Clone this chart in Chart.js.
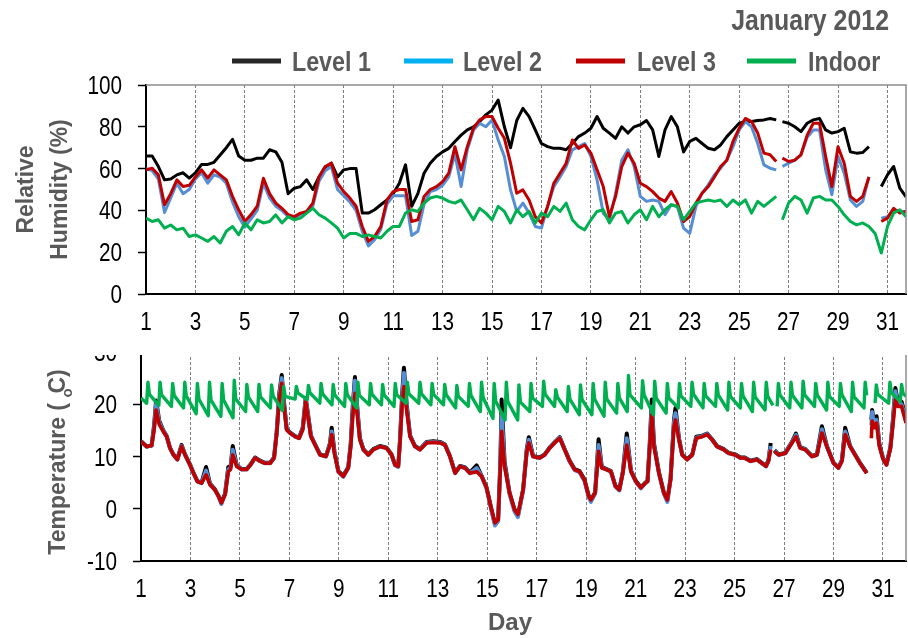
<!DOCTYPE html>
<html>
<head>
<meta charset="utf-8">
<script src="https://cdn.jsdelivr.net/npm/chart.js@4.4.1/dist/chart.umd.min.js"></script>
<style>
  html, body { margin: 0; padding: 0; background: #fff; }
  body { width: 908px; height: 638px; position: relative; overflow: hidden; }
  #rhChart { position: absolute; left: 0; top: 0; }
  #clip { position: absolute; left: 0; top: 355px; width: 908px; height: 283px; overflow: hidden; }
  #tChart { position: absolute; left: 0; top: -15px; }
</style>
</head>
<body>
<canvas id="rhChart" width="908" height="340"></canvas>
<div id="clip"><canvas id="tChart" width="908" height="298"></canvas></div>
<script>
// ---- labels ----
const chartTitle = "January 2012";
const seriesNames = ["Level 1", "Level 2", "Level 3", "Indoor"];
const rhAxisTitle = ["Relative", "Humidity (%)"];
const xAxisTitle = "Day";
const dayTicks = [1, 3, 5, 7, 9, 11, 13, 15, 17, 19, 21, 23, 25, 27, 29, 31];
const rhTicks = [0, 20, 40, 60, 80, 100];
const tempTicks = [-10, 0, 10, 20, 30];

const lineColors = ["#000000", "#558ED5", "#C00000", "#00B050"];
const legendColors = ["#262626", "#00B0F0", "#C00000", "#00B050"];

// ---- relative humidity, read every 6 h (null = logger gap) ----
const rhDays = [
  1, 1.25, 1.5, 1.75, 2, 2.25, 2.5, 2.75, 3, 3.25, 3.5, 3.75, 4, 4.25, 4.5, 4.75,
  5, 5.25, 5.5, 5.75, 6, 6.25, 6.5, 6.75, 7, 7.25, 7.5, 7.75, 8, 8.25, 8.5, 8.75,
  9, 9.25, 9.5, 9.75, 10, 10.25, 10.5, 10.75, 11, 11.25, 11.5, 11.75, 12, 12.25, 12.5, 12.75,
  13, 13.25, 13.5, 13.75, 14, 14.25, 14.5, 14.75, 15, 15.25, 15.5, 15.75, 16, 16.25, 16.5, 16.75,
  17, 17.25, 17.5, 17.75, 18, 18.25, 18.5, 18.75, 19, 19.25, 19.5, 19.75, 20, 20.25, 20.5, 20.75,
  21, 21.25, 21.5, 21.75, 22, 22.25, 22.5, 22.75, 23, 23.25, 23.5, 23.75, 24, 24.25, 24.5, 24.75,
  25, 25.25, 25.5, 25.75, 26, 26.25, 26.5, 26.6, 26.75, 27, 27.25, 27.5, 27.75, 28, 28.25, 28.5, 28.75,
  29, 29.25, 29.5, 29.75, 30, 30.25, 30.5, 30.75, 31, 31.25, 31.5, 31.75
];
const rhLevel1 = [
  66, 66, 61, 54.6, 55, 57, 58, 55.4, 58, 62, 62, 63, 66.5, 70, 74, 66,
  64, 64, 65, 65, 69, 68, 63, 48, 50.6, 51.4, 54.6, 50, 56, 60.7, 62.6, 56,
  59.4, 60, 60, 38.7, 38.7, 40.3, 42.7, 45, 48, 53, 61.8, 42, 48, 57.8, 62.6, 65.8,
  68, 69.7, 73, 76, 78.5, 80, 82.5, 85.7, 88, 92.8, 80, 70, 83, 88.8, 84.9, 78.5,
  72, 70.5, 69.7, 69.7, 69, 72, 75.3, 77, 79.3, 84.9, 79.3, 77, 74.5, 80, 77, 80,
  81, 83, 78.5, 65.8, 78.5, 84.9, 80, 68, 73, 74.5, 72, 69.7, 69, 71.3, 75.3, 78.5,
  81.7, 82.5, 82.5, 83, 83.3, 84, 83.3, null, 82.5, 81.7, 80, 77.7, 81.7, 83.3, 84, 78.5, 77,
  77.7, 79.3, 68, 67.4, 67.7, 70.5, null, 51.4, 57, 61, 50.6, 46.5
];
const rhLevel2 = [
  60, 59, 55, 39, 46, 53, 48, 50, 55, 58, 53, 57, 56, 53, 44, 37,
  32, 36, 40, 53, 46, 42, 40, 37, 36, 38, 39, 42, 54, 59, 61, 50,
  47, 44, 40, 30, 23, 26, 31, 43, 47, 47, 47, 28, 30, 43, 49, 50,
  52, 56, 67, 51.4, 69, 78.5, 81.7, 80, 83.3, 73.7, 65.8, 49.8, 39.5, 43.5, 38.7, 32.3,
  31.5, 41.9, 51.4, 56, 61, 69, 70.5, 72, 65.8, 54.6, 38.7, 35.5, 48.2, 64, 69, 61,
  46.7, 44.3, 45, 44.3, 38, 42.7, 41.9, 31.5, 29, 41.9, 48.2, 52.2, 57, 60.2, 64, 70.5,
  78.5, 82.5, 80, 72, 61.8, 60.2, 59.4, null, 61, 62.6, 64, 66.6, 75, 78.5, 78.5, 59.4, 47.5,
  65.8, 57.8, 45, 41.9, 44.3, 56, null, 36.3, 37, 40.3, 39.5, 39.5
];
const rhLevel3 = [
  59.4, 60.2, 57, 42.7, 48, 54.6, 51.4, 52, 56, 59.4, 55.4, 59.4, 57, 54.6, 46.7, 40.3,
  34.7, 38, 42, 55.4, 48, 43.5, 41, 38, 37, 38.7, 39.5, 43.5, 56, 61, 62.6, 53,
  49, 45.9, 42, 32.3, 25.2, 27.5, 32.3, 45, 49, 50, 50, 34.7, 35.5, 46.7, 50, 51.4,
  53.8, 57.8, 70.5, 59.4, 70.5, 79.3, 83.3, 84.9, 84.9, 79.3, 74.5, 62.6, 48.2, 49.8, 45, 37,
  34, 41.9, 53, 57.8, 62.6, 73.7, 69.7, 71.3, 67.4, 59.4, 51.4, 37, 46.7, 61, 67.4, 62.6,
  53, 51.4, 49, 45.9, 44.3, 49, 43.5, 34.7, 37, 43.5, 48.2, 51.4, 56, 61, 64, 73,
  79.3, 84, 82.5, 77, 67.4, 66.6, 63.4, null, 65, 63.4, 64, 66.6, 76, 81.7, 81.7, 65.8, 51.4,
  70.5, 62.6, 46.7, 44.3, 46.7, 56, null, 34.7, 36.3, 41, 38.7, 39.5
];
const rhIndoor = [
  36.3, 34.7, 35.5, 31.5, 33, 30.7, 31.5, 27.5, 28.3, 26.8, 25.2, 27.5, 24.4, 30, 32.3, 28.3,
  34, 30.7, 35.5, 34, 34.7, 37.9, 34, 37, 35.5, 36.3, 38.7, 41, 37.9, 36.3, 34, 31.5,
  26.8, 29, 29, 27.5, 28.3, 27.5, 26.8, 30, 32.3, 32.3, 38.7, 40.3, 39.5, 43.5, 45.9, 46.7,
  45.9, 44.3, 43.5, 45, 40.3, 35.5, 41, 38.7, 35.5, 41.9, 39.5, 34, 40.3, 37, 39.5, 34,
  38.7, 37, 41.9, 39.5, 43.5, 35.5, 32.3, 30.7, 35.5, 39.5, 40.3, 34, 38.7, 39.5, 34, 37.9,
  40.3, 35.5, 41.9, 37, 40.3, 42.7, 41.9, 35.5, 39.5, 43.5, 44.3, 45, 44.3, 45, 41.9, 45,
  42.7, 45, 38.7, 44.3, 41.9, 44.3, 46.7, null, 35.5, 43.5, 46.7, 45, 38.7, 45.9, 46.7, 45, 45,
  41.9, 37.9, 34.7, 33.1, 34, 32.3, 29, 19.6, 32.3, 38.7, 40.3, 37
];

// ---- outdoor temperatures (turning points of the traces) ----
const tempDays = [
  1.00, 1.23, 1.43, 1.53, 1.61, 1.74, 1.90, 2.04, 2.17, 2.31, 2.47, 2.64, 2.78, 2.98,
  3.12, 3.28, 3.45, 3.63, 3.79, 3.99, 4.13, 4.25, 4.40, 4.53, 4.62, 4.71, 4.87,
  5.07, 5.27, 5.43, 5.61, 5.81, 6.01, 6.22, 6.38, 6.49, 6.59, 6.69, 6.78, 6.89,
  7.02, 7.23, 7.39, 7.54, 7.66, 7.77, 7.87, 8.04, 8.24, 8.48, 8.64, 8.71, 8.82, 8.98,
  9.18, 9.38, 9.48, 9.56, 9.65, 9.75, 9.85, 9.99, 10.19, 10.39, 10.66, 10.93,
  11.13, 11.27, 11.40, 11.47, 11.56, 11.63, 11.74, 11.88, 12.08, 12.28, 12.55, 12.82,
  13.09, 13.29, 13.49, 13.70, 13.90, 14.10, 14.30, 14.57, 14.77, 14.97,
  15.17, 15.31, 15.44, 15.53, 15.58, 15.70, 15.90, 16.10, 16.24, 16.45, 16.60, 16.68, 16.85,
  17.12, 17.32, 17.52, 17.72, 17.93, 18.13, 18.33, 18.53, 18.73, 18.93,
  19.10, 19.19, 19.36, 19.50, 19.63, 19.82, 20.00, 20.18, 20.34, 20.48, 20.64, 20.81,
  21.01, 21.21, 21.39, 21.48, 21.57, 21.65, 21.74, 21.94, 22.14, 22.28, 22.41, 22.55, 22.61, 22.75, 22.88,
  23.08, 23.29, 23.45, 23.69, 23.89, 24.09, 24.29, 24.56, 24.76,
  25.03, 25.23, 25.41, 25.64, 25.90, 26.10, 26.27, 26.37, 26.46, 26.53, 26.61, 26.78,
  27.05, 27.32, 27.48, 27.65, 27.86, 28.13, 28.33, 28.53, 28.73,
  29.00, 29.20, 29.34, 29.47, 29.67, 29.87, 30.07, 30.34, 30.44,
  30.53, 30.56, 30.65, 30.74, 30.85, 31.00, 31.14, 31.30, 31.40, 31.50, 31.60, 31.75, 31.93
];
const tempLevel1 = [
  12.9, 11.9, 12.1, 16, 20.7, 16.8, 15, 13.9, 11.7, 10.4, 9.5, 12.2, 10.4, 8.5,
  6.9, 5.3, 5, 8, 4.8, 3.7, 2.5, 1.2, 2.9, 8, 8, 12, 8.3,
  7.6, 7.6, 8.5, 9.8, 9.2, 8.8, 8.8, 9.8, 15, 22, 25.6, 20.5, 15.3,
  14.6, 13.9, 13.6, 15.5, 21.2, 17.5, 14, 12.3, 10.4, 10.1, 12.5, 15.5, 11, 7.2,
  6.3, 8, 12.5, 19.5, 25.2, 19, 13.5, 11.4, 10.4, 11.4, 12, 11.7,
  10.4, 8.5, 8.2, 13, 22, 27, 20, 14, 12, 11.4, 12.8, 12.9,
  12.8, 12.3, 10.1, 6.9, 8.2, 7.9, 6.9, 8.3, 6.3, 4.1,
  -0.1, -2.9, -2, 9, 20.9, 9, 3.1, -0.1, -1.3, 3.7, 11.5, 13.7, 10.1,
  9.8, 10.4, 11.7, 12.7, 13.7, 11.4, 9.2, 7.6, 7.2, 5.6,
  2.5, 1.6, 3.1, 13.3, 8, 7.6, 7.2, 4.4, 3.7, 7, 14.4, 7.3,
  5.3, 4.1, 5, 5.3, 12.5, 20.9, 12.5, 7, 3.1, 1.6, 5.8, 17, 19.3, 13.5, 10.4,
  9.5, 10.4, 13.8, 14, 14.4, 13.3, 12, 11.4, 10.7,
  10.4, 9.8, 9.8, 9.2, 9.5, 8.8, 8.2, 9.3, 12.6, null, 11.2, 10.4,
  10.7, 12.8, 14.4, 11.8, 11.4, 10.1, 10.4, 15.8, 12,
  8.8, 7.9, 9.3, 15.5, 12, 10.4, 8.8, 6.9, null,
  17, 18.9, 16, 17.7, 12.5, 9.7, 8.5, 11.8, 17, 23.1, 20.5, 20.5, 17.4
];
const tempLevel2 = [
  12.9, 11.9, 12.1, 15.5, 20, 16.5, 14.9, 13.8, 11.6, 10.3, 9.4, 12, 10.3, 8.4,
  6.8, 5.2, 4.9, 7.3, 4.7, 3.6, 2.4, 0.9, 2.8, 7.5, 7.8, 11.3, 8.2,
  7.5, 7.5, 8.4, 9.7, 9.1, 8.7, 8.7, 9.7, 14.8, 21.5, 25, 20, 15.2,
  14.5, 13.8, 13.5, 15.3, 21, 17.2, 13.9, 12.2, 10.3, 10, 12.3, 14.8, 10.8, 7,
  6.1, 7.9, 12.2, 18.5, 24.5, 18.5, 13.3, 11.3, 10.3, 11.3, 11.9, 11.6,
  10.3, 8.3, 8, 12.8, 21, 26, 19.5, 13.9, 11.9, 11.3, 12.7, 12.8,
  12.7, 12.2, 10, 6.8, 8.1, 7.8, 6.8, 7.8, 6.2, 3.9,
  -0.4, -3.2, -2.4, 8.5, 18, 8.5, 2.8, -0.5, -1.6, 3.5, 11.2, 13.2, 10,
  9.7, 10.3, 11.6, 12.6, 13.6, 11.3, 9, 7.4, 7, 5.3,
  2.2, 1.3, 2.9, 12.2, 7.9, 7.5, 7.1, 4.2, 3.5, 6.9, 13.5, 7.2,
  5.1, 3.9, 4.9, 5.2, 12.2, 19.5, 12.2, 6.8, 2.9, 1.3, 5.6, 16.5, 18.3, 13.3, 10.3,
  9.4, 10.3, 13.6, 13.9, 14.3, 13.2, 11.9, 11.3, 10.6,
  10.3, 9.7, 9.7, 9.1, 9.4, 8.7, 8.1, 9.2, 12, null, 11.1, 10.3,
  10.6, 12.7, 14.1, 11.7, 11.3, 10, 10.3, 15.2, 11.9,
  8.7, 7.8, 9.2, 14.8, 11.9, 10.3, 8.7, 6.8, null,
  16, 18.5, 15.8, 17, 12.2, 9.6, 8.4, 11.6, 16.5, 22.5, 20, 20, 17
];
const tempLevel3 = [
  12.9, 11.9, 12.1, 15.1, 18.9, 16.1, 14.8, 13.8, 11.6, 10.3, 9.4, 11.9, 10.3, 8.4,
  6.8, 5.2, 4.9, 6.5, 4.6, 3.6, 2.4, 1.1, 2.7, 7.1, 7.5, 10.3, 8.1,
  7.5, 7.5, 8.4, 9.7, 9.1, 8.7, 8.7, 9.7, 14.5, 20.9, 24, 19.6, 15.1,
  14.5, 13.8, 13.5, 15.1, 20.5, 17, 13.8, 12.2, 10.3, 10, 12.2, 14.2, 10.6, 7.1,
  6.2, 7.8, 11.9, 17.7, 22.1, 17.7, 13.2, 11.3, 10.3, 11.3, 11.9, 11.6,
  10.3, 8.4, 8.1, 12.6, 20.2, 23.4, 18.9, 13.8, 11.9, 11.3, 12.6, 12.7,
  12.6, 12.2, 10, 6.8, 8.1, 7.8, 6.8, 7.1, 6.2, 4,
  -0.2, -2.7, -2.1, 8, 14.8, 8.1, 3, -0.2, -1.1, 3.6, 11, 12.6, 10,
  9.7, 10.3, 11.6, 12.6, 13.5, 11.3, 9.1, 7.5, 7.1, 5.5,
  2.4, 1.7, 3, 11, 7.8, 7.5, 7.1, 4.3, 3.6, 6.8, 12.2, 7.1,
  5.2, 4, 4.9, 5.2, 11.9, 18, 11.9, 6.8, 3, 1.7, 5.5, 15.8, 17, 13.2, 10.3,
  9.4, 10.3, 13.5, 13.8, 14.2, 13.2, 11.9, 11.3, 10.6,
  10.3, 9.7, 9.7, 9.1, 9.4, 8.7, 8.1, 9.1, 11.3, null, 11, 10.3,
  10.6, 12.6, 13.8, 11.6, 11.3, 10, 10.3, 14.5, 11.9,
  8.7, 7.8, 9.1, 14.2, 11.9, 10.3, 8.7, 6.8, null,
  13.5, 16.8, 15.5, 16.4, 12, 9.5, 8.4, 11.5, 16, 20.9, 19.6, 19.6, 16.4
];

// ---- indoor temperature: trough / peak / shoulder of the twice-daily cycle ----
const indoorDays = [
  1,
  1.23, 1.28, 1.34, 1.72, 1.77, 1.83,
  2.23, 2.28, 2.34, 2.72, 2.77, 2.83,
  3.23, 3.28, 3.34, 3.72, 3.77, 3.83,
  4.23, 4.28, 4.34, 4.72, 4.77, 4.83,
  5.23, 5.28, 5.34, 5.72, 5.77, 5.83,
  6.23, 6.28, 6.34, 6.72, 6.77, 6.83,
  7.23, 7.28, 7.34, 7.72, 7.77, 7.83,
  8.23, 8.28, 8.34, 8.72, 8.77, 8.83,
  9.23, 9.28, 9.34, 9.72, 9.77, 9.83,
  10.23, 10.28, 10.34, 10.72, 10.77, 10.83,
  11.23, 11.28, 11.34, 11.72, 11.77, 11.83,
  12.23, 12.28, 12.34, 12.72, 12.77, 12.83,
  13.23, 13.28, 13.34, 13.72, 13.77, 13.83,
  14.23, 14.28, 14.34, 14.72, 14.77, 14.83,
  15.23, 15.28, 15.34, 15.72, 15.77, 15.83,
  16.23, 16.28, 16.34, 16.72, 16.77, 16.83,
  17.23, 17.28, 17.34, 17.72, 17.77, 17.83,
  18.23, 18.28, 18.34, 18.72, 18.77, 18.83,
  19.23, 19.28, 19.34, 19.72, 19.77, 19.83,
  20.23, 20.28, 20.34, 20.66, 20.71, 20.77,
  21.23, 21.28, 21.34, 21.72, 21.77, 21.83,
  22.23, 22.28, 22.34, 22.72, 22.77, 22.83,
  23.23, 23.28, 23.34, 23.72, 23.77, 23.83,
  24.23, 24.28, 24.34, 24.72, 24.77, 24.83,
  25.23, 25.28, 25.34, 25.72, 25.77, 25.83,
  26.23, 26.28, 26.34, 26.55, 26.6, 26.72, 26.77, 26.83,
  27.23, 27.28, 27.34, 27.72, 27.77, 27.83,
  28.23, 28.28, 28.34, 28.72, 28.77, 28.83,
  29.23, 29.28, 29.34, 29.72, 29.77, 29.83,
  30.23, 30.28, 30.34, 30.45, 30.68, 30.73, 30.79,
  31.23, 31.28, 31.34, 31.7, 31.75, 31.81, 31.93
];
const tempIndoor = [
  21.2,
  20.2, 24.2, 21.9, 19.8, 24.2, 21.8,
  19.6, 24, 21.7, 19.3, 24.2, 21.6,
  18.2, 24, 21, 17.8, 24.2, 20.8,
  17.7, 24, 20.8, 17.4, 24.6, 21,
  18.6, 23.8, 21.4, 18.6, 23.8, 21.4,
  19.3, 23.7, 21.6, 18.8, 23.4, 21.5,
  21, 23.4, 22.2, 20.9, 23.6, 22.2,
  20.2, 24, 22, 19.9, 23.8, 21.8,
  19.6, 24, 21.8, 19.3, 24.2, 21.7,
  19.9, 24, 21.9, 19.9, 23.8, 21.8,
  19.6, 24, 21.8, 20.2, 24.2, 22,
  20.2, 24.2, 22, 19.9, 24, 21.9,
  19.9, 23.8, 21.8, 19.3, 23.6, 21.5,
  19.6, 24, 21.7, 18.6, 24.2, 21.3,
  17.3, 24, 20.6, 17, 24.2, 20.5,
  17, 23.7, 20.4, 18.6, 24, 21.2,
  19.6, 24.4, 21.9, 19.6, 22.8, 21.4,
  18.6, 23.4, 21, 18, 23.7, 20.9,
  18, 24, 21, 17.7, 24.2, 21,
  18.3, 24, 21.2, 18.6, 25.5, 21.8,
  19.3, 24.5, 21.8, 18, 24.4, 21.2,
  18.3, 24, 21.2, 19.3, 24, 21.6,
  19.6, 24.2, 21.9, 19.3, 24, 21.6,
  19.6, 24, 21.8, 18.9, 24.2, 21.5,
  19.3, 24, 21.6, 18.6, 24.2, 21.4,
  18.9, 24.2, 21.5, 19.8, null, 19.6, 24, 21.8,
  19.3, 24.2, 21.7, 19.3, 24.4, 21.8,
  19.6, 24, 21.8, 18.9, 24.2, 21.5,
  19.6, 24, 21.8, 18.6, 24.2, 21.4,
  19.3, 24.2, 21.7, null, 20.2, 23.7, 21.9,
  20.2, 24.2, 22.2, 20.5, 23.8, 22.1, 21.5
];

// ---- helpers ----
const SANS = "'Liberation Sans', Arial, 'DejaVu Sans', sans-serif";
const GREY_TEXT = "#595959";
const NARROW_X = 0.83; // horizontal squeeze to imitate a narrow face

const toPoints = (xs, ys) => xs.map((x, i) => ({ x: x, y: ys[i] }));

// draw text squeezed horizontally
function narrowText(ctx, text, x, y, align) {
  ctx.save();
  ctx.translate(x, y);
  ctx.scale(NARROW_X, 1);
  ctx.textAlign = align;
  ctx.fillText(text, 0, 0);
  ctx.restore();
}

// green drawn on top, then red, blue, black at the bottom
function makeSets(xsList, ysList, widths) {
  const order = [3, 2, 1, 0];
  return ysList.map((ys, i) => ({
    label: seriesNames[i],
    data: toPoints(xsList[i], ys),
    borderColor: lineColors[i],
    backgroundColor: lineColors[i],
    borderWidth: widths[i],
    borderJoinStyle: "round",
    pointRadius: 0,
    tension: 0,
    spanGaps: false,
    order: order[i]
  }));
}

function xScale(maxDay, height) {
  return {
    type: "linear",
    min: 1,
    max: maxDay,
    afterBuildTicks: (s) => { s.ticks = dayTicks.map(v => ({ value: v })); },
    afterFit: (s) => { s.height = height; s.paddingLeft = 0; s.paddingRight = 0; },
    grid: {
      color: (c) => (c.tick && c.tick.value === 1 ? "rgba(0,0,0,0)" : "#7f7f7f"),
      lineWidth: 1,
      drawTicks: false
    },
    border: { display: true, color: "#000", width: 2, dash: [3, 2] },
    ticks: { display: false }
  };
}

function yScale(min, max, ticks, width) {
  return {
    min: min,
    max: max,
    afterBuildTicks: (s) => { s.ticks = ticks.map(v => ({ value: v })); },
    afterFit: (s) => { s.width = width; s.paddingTop = 0; s.paddingBottom = 0; },
    grid: { drawOnChartArea: false, drawTicks: true, tickLength: 8, tickColor: "#000", tickWidth: 1.5 },
    border: { display: true, color: "#000", width: 2 },
    ticks: { display: false }
  };
}

// tick labels placed by the chart's own scales, drawn in a narrow style
const tickLabels = {
  id: "tickLabels",
  afterDraw(chart) {
    const { ctx, chartArea: a, scales } = chart;
    ctx.save();
    ctx.fillStyle = "#000";
    ctx.font = "25px " + SANS;
    ctx.textBaseline = "alphabetic";
    scales.x.ticks.forEach(t => {
      narrowText(ctx, String(t.value), scales.x.getPixelForValue(t.value), a.bottom + 36, "center");
    });
    scales.y.ticks.forEach(t => {
      narrowText(ctx, String(t.value), a.left - 24, scales.y.getPixelForValue(t.value) + 9, "right");
    });
    ctx.restore();
  }
};

const commonOpts = {
  responsive: false,
  animation: false,
  events: [],
  plugins: { legend: { display: false }, tooltip: { enabled: false }, title: { display: false } }
};

// title, legend, RH axis title and frame of the upper panel
const legendLineX = [232, 404, 576, 747];
const legendTextX = [292, 463, 637, 808];
const rhDecor = {
  id: "rhDecor",
  afterDraw(chart) {
    const { ctx, chartArea: a } = chart;
    ctx.save();
    ctx.strokeStyle = "#8c8c8c";
    ctx.lineWidth = 1.5;
    ctx.beginPath();
    ctx.moveTo(a.left, a.top);
    ctx.lineTo(a.right, a.top);
    ctx.lineTo(a.right, a.bottom);
    ctx.stroke();

    ctx.fillStyle = GREY_TEXT;
    ctx.textBaseline = "alphabetic";
    ctx.font = "bold 30px " + SANS;
    narrowText(ctx, chartTitle, 889, 30, "right");

    ctx.font = "bold 28px " + SANS;
    seriesNames.forEach((n, i) => {
      ctx.strokeStyle = legendColors[i];
      ctx.lineWidth = 5;
      ctx.beginPath();
      ctx.moveTo(legendLineX[i], 61);
      ctx.lineTo(legendLineX[i] + 49, 61);
      ctx.stroke();
      narrowText(ctx, n, legendTextX[i], 71, "left");
    });

    // rotated axis title
    ctx.font = "bold 23px " + SANS;
    ctx.textAlign = "center";
    ctx.translate(0, (a.top + a.bottom) / 2);
    ctx.rotate(-Math.PI / 2);
    ctx.fillText(rhAxisTitle[0], 0, 33);
    ctx.fillText(rhAxisTitle[1], 0, 67);
    ctx.restore();
  }
};

// temperature axis title, "Day" label and frame of the lower panel
const tDecor = {
  id: "tDecor",
  afterDraw(chart) {
    const { ctx, chartArea: a } = chart;
    ctx.save();
    ctx.strokeStyle = "#8c8c8c";
    ctx.lineWidth = 1.5;
    ctx.beginPath();
    ctx.moveTo(a.right, a.top);
    ctx.lineTo(a.right, a.bottom);
    ctx.stroke();

    ctx.fillStyle = GREY_TEXT;
    ctx.font = "bold 24px " + SANS;
    ctx.textAlign = "center";
    ctx.textBaseline = "alphabetic";
    ctx.fillText(xAxisTitle, 510, 290);

    // "Temperature ( oC)" with the small o set below the line as in the original
    ctx.font = "bold 23px " + SANS;
    const part1 = "Temperature ( ", part2 = "C)";
    const w1 = ctx.measureText(part1).width, w2 = ctx.measureText(part2).width;
    const total = w1 + 3 + w2;
    ctx.translate(0, 122);
    ctx.rotate(-Math.PI / 2);
    ctx.textAlign = "left";
    const x0 = -total / 2;
    ctx.fillText(part1, x0, 65);
    ctx.fillText(part2, x0 + w1 + 3, 65);
    ctx.font = "bold 15px " + SANS;
    ctx.fillText("o", x0 + w1 - 1, 72);
    ctx.restore();
  }
};

new Chart(document.getElementById("rhChart"), {
  type: "line",
  data: {
    datasets: makeSets([rhDays, rhDays, rhDays, rhDays], [rhLevel1, rhLevel2, rhLevel3, rhIndoor], [3, 3, 3, 3])
  },
  options: Object.assign({}, commonOpts, {
    layout: { padding: { left: 0, right: 2, top: 85, bottom: 0 } },
    scales: { x: xScale(31.75, 46), y: yScale(0, 100, rhTicks, 146) }
  }),
  plugins: [tickLabels, rhDecor]
});

new Chart(document.getElementById("tChart"), {
  type: "line",
  data: {
    datasets: makeSets([tempDays, tempDays, tempDays, indoorDays], [tempLevel1, tempLevel2, tempLevel3, tempIndoor], [4, 4, 3.6, 3.4])
  },
  options: Object.assign({}, commonOpts, {
    layout: { padding: { left: 0, right: 2, top: 12, bottom: 0 } },
    scales: { x: xScale(31.93, 77), y: yScale(-10, 30, tempTicks, 141) }
  }),
  plugins: [tickLabels, tDecor]
});
</script>
</body>
</html>
